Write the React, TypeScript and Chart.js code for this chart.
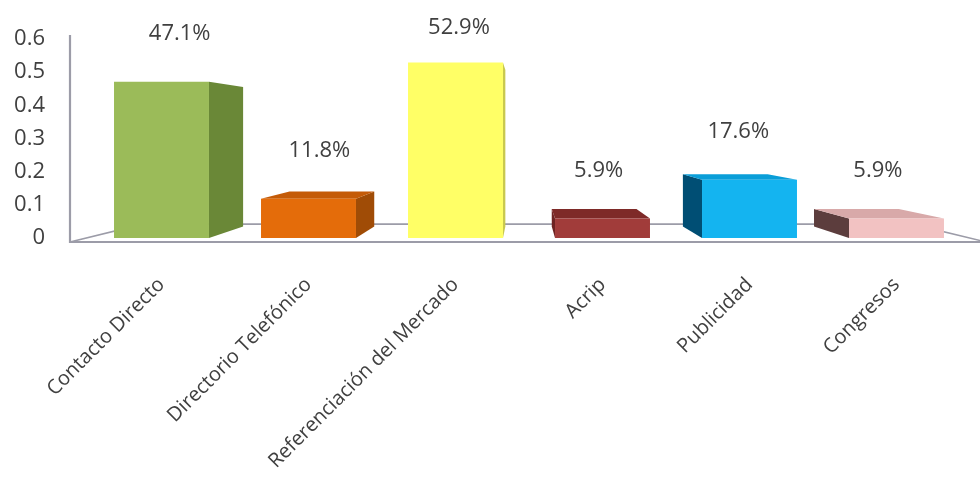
import React, { useEffect, useRef } from 'react';
import { Chart, registerables } from 'chart.js';

Chart.register(...registerables);

const categories = [
  'Contacto Directo',
  'Directorio Telefónico',
  'Referenciación del Mercado',
  'Acrip',
  'Publicidad',
  'Congresos',
];
const values = [0.471, 0.118, 0.529, 0.059, 0.176, 0.059];
const yTicks = [0, 0.1, 0.2, 0.3, 0.4, 0.5, 0.6];

const frontColors = ['#9BBB59', '#E46C0A', '#FFFF66', '#A13C3A', '#14B4F0', '#F2C2C2'];
const sideColors = ['#6A8837', '#A04C06', '#C9C94E', '#6E2322', '#004E74', '#5C3D3D'];
const topColors = ['#88A84C', '#C45B08', '#EDED5C', '#7E2A28', '#0A9ED8', '#D8A9A9'];

const FONT = "'Open Sans', 'Noto Sans', sans-serif";

const box3d = {
  id: 'box3d',
  beforeDatasetsDraw(chart: any) {
    const { ctx, chartArea: ca } = chart;
    const vx = (ca.left + ca.right) / 2 - 4;
    const vy = ca.top + 0.46 * (ca.bottom - ca.top);
    const P = (x: number, y: number, t: number) => [x + (vx - x) * t, y + (vy - y) * t];
    const yBase = chart.scales.y.getPixelForValue(0);

    // floor
    const fy = yBase + 4;
    const fl = ca.left - 18;
    const fr = ca.right + 16;
    const tf = 0.16;
    const bl = P(fl, fy, tf);
    const br = P(fr, fy, tf);
    ctx.save();
    ctx.strokeStyle = '#9C9CA8';
    ctx.lineWidth = 1.6;
    ctx.beginPath();
    ctx.moveTo(fl, fy);
    ctx.lineTo(bl[0], bl[1]);
    ctx.lineTo(br[0], br[1]);
    ctx.lineTo(fr, fy);
    ctx.stroke();
    ctx.lineWidth = 2.2;
    ctx.beginPath();
    ctx.moveTo(fl, ca.top - 4);
    ctx.lineTo(fl, fy);
    ctx.lineTo(fr, fy);
    ctx.stroke();

    // bar depth faces
    const t = 0.108;
    const meta = chart.getDatasetMeta(0);
    meta.data.forEach((el: any, i: number) => {
      const p = el.getProps(['x', 'y', 'base', 'width'], true);
      const left = p.x - p.width / 2;
      const right = p.x + p.width / 2;
      const top = p.y;
      const bottom = p.base;
      const sx = p.x < vx ? right : left;
      const a = P(sx, top, t);
      const b = P(sx, bottom, t);
      ctx.fillStyle = sideColors[i];
      ctx.beginPath();
      ctx.moveTo(sx, top);
      ctx.lineTo(a[0], a[1]);
      ctx.lineTo(b[0], b[1]);
      ctx.lineTo(sx, bottom);
      ctx.closePath();
      ctx.fill();
      const tl = P(left, top, t);
      const tr = P(right, top, t);
      if (tl[1] < top) {
        ctx.fillStyle = topColors[i];
        ctx.beginPath();
        ctx.moveTo(left, top);
        ctx.lineTo(tl[0], tl[1]);
        ctx.lineTo(tr[0], tr[1]);
        ctx.lineTo(right, top);
        ctx.closePath();
        ctx.fill();
      }
    });
    ctx.restore();
  },
  afterDatasetsDraw(chart: any) {
    const { ctx, chartArea: ca } = chart;
    const vx = (ca.left + ca.right) / 2 - 4;
    const meta = chart.getDatasetMeta(0);
    ctx.save();
    ctx.font = `22px ${FONT}`;
    ctx.fillStyle = '#404040';
    ctx.textAlign = 'center';
    ctx.textBaseline = 'middle';
    meta.data.forEach((el: any, i: number) => {
      const p = el.getProps(['x', 'y'], true);
      const x = p.x + (vx - p.x) * 0.05;
      const y = Math.max(p.y - 48, 28);
      ctx.fillText((values[i] * 100).toFixed(1) + '%', x, y);
    });
    ctx.restore();
  },
};

export default function App() {
  const ref = useRef<HTMLCanvasElement>(null);
  useEffect(() => {
    if (!ref.current) return;
    const chart = new Chart(ref.current, {
      type: 'bar',
      data: {
        labels: categories,
        datasets: [
          {
            data: values,
            backgroundColor: frontColors,
            borderWidth: 0,
            barPercentage: 0.646,
            categoryPercentage: 1,
          },
        ],
      },
      options: {
        animation: false,
        responsive: false,
        layout: { padding: { top: 39, right: 10, left: 0, bottom: 0 } },
        plugins: { legend: { display: false }, tooltip: { enabled: false } },
        scales: {
          x: {
            grid: { display: false, drawTicks: false },
            border: { display: false },
            ticks: {
              minRotation: 45,
              maxRotation: 45,
              autoSkip: false,
              padding: 35,
              color: '#404040',
              font: { family: FONT, size: 20 },
            },
            afterFit: (s: any) => {
              s.height = 243;
            },
          },
          y: {
            position: 'left',
            weight: 10,
            min: 0,
            max: 0.6,
            grid: { display: false, drawTicks: false },
            border: { display: false },
            ticks: {
              padding: 25,
              color: '#404040',
              font: { family: FONT, size: 22 },
              callback: (v: any) => String(v),
            },
            afterBuildTicks: (s: any) => {
              s.ticks = yTicks.map((v) => ({ value: v }));
            },
            afterFit: (s: any) => {
              s.width = 70;
            },
          },
          wall: {
            type: 'linear',
            position: 'left',
            weight: 0,
            display: true,
            grid: { display: false, drawTicks: false },
            border: { display: false },
            ticks: { display: false },
            afterFit: (s: any) => {
              s.width = 18;
            },
          },
        },
      },
      plugins: [box3d],
    });
    return () => chart.destroy();
  }, []);
  return (
    <div style={{ position: 'fixed', left: 0, top: 0, width: 980, height: 481, background: '#fff' }}>
      <canvas ref={ref} width={980} height={481} style={{ display: 'block' }} />
    </div>
  );
}
